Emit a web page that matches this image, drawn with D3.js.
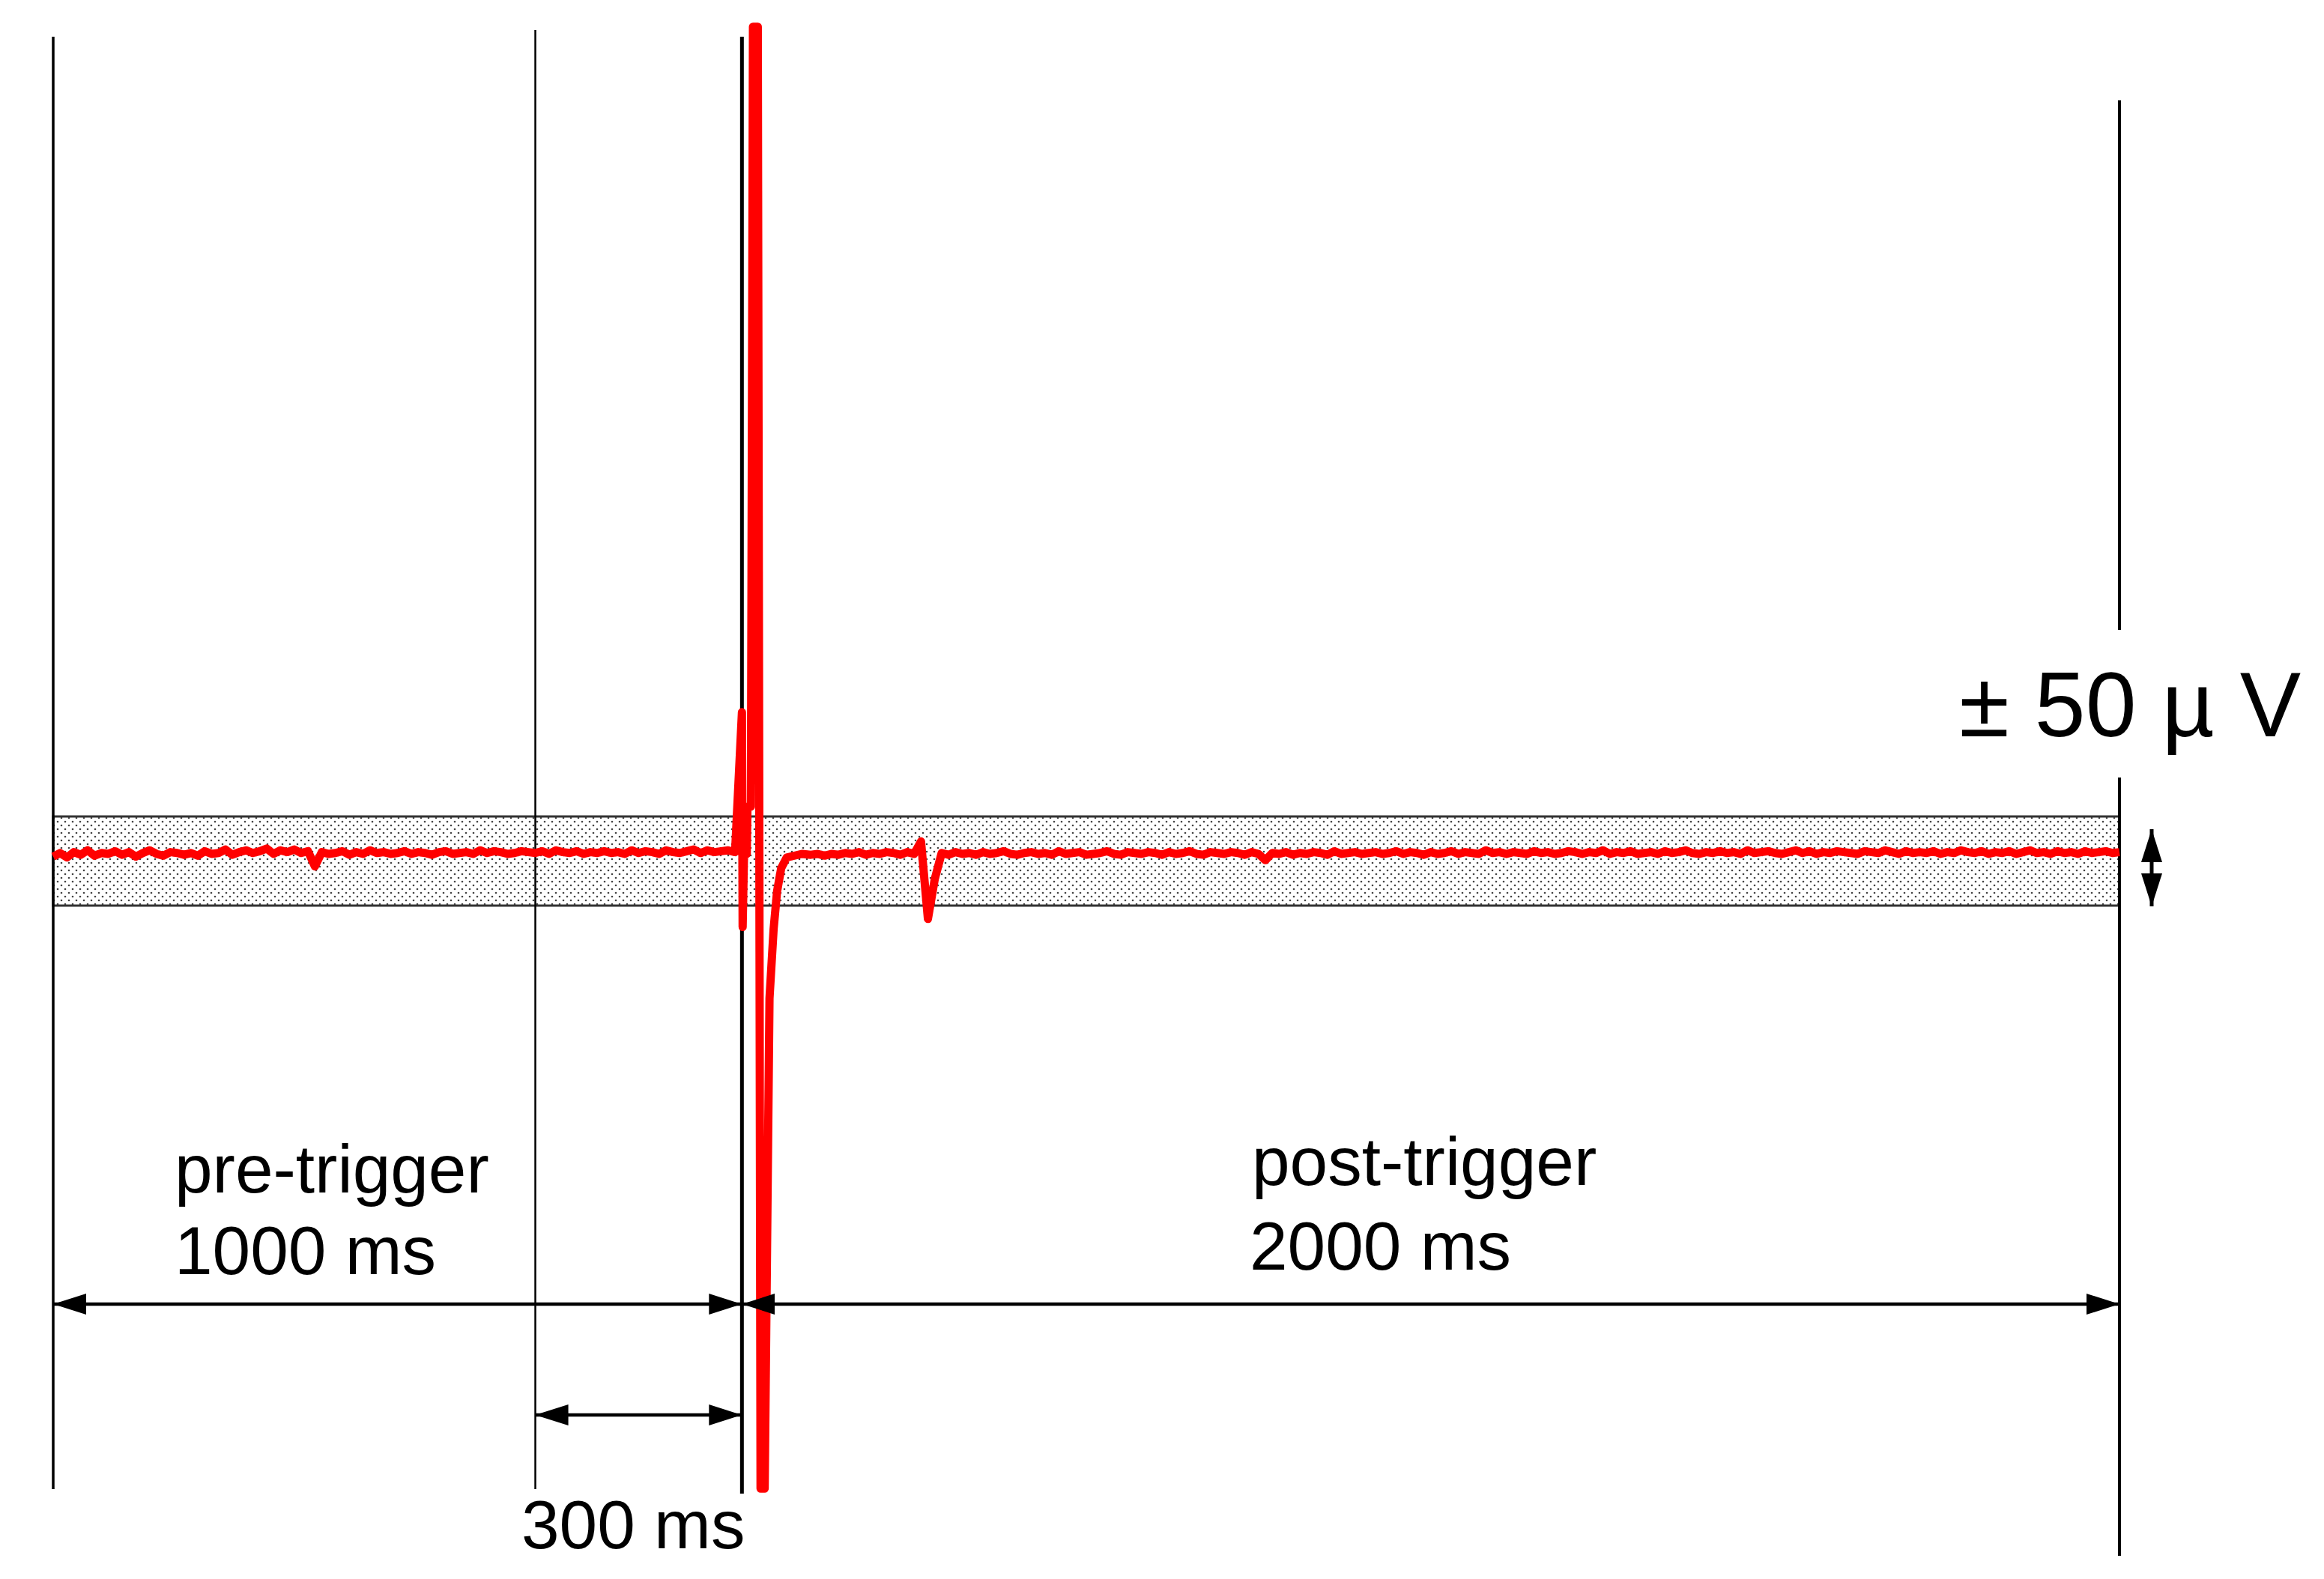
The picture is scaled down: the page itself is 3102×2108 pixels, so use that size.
<!DOCTYPE html>
<html lang="en">
<head>
<meta charset="UTF-8">
<title>pre/post trigger</title>
<script src="https://d3js.org/d3.v7.min.js"></script>
<style>
  body { margin: 0; background: #fff; }
  text { font-family: "Liberation Sans", Arial, sans-serif; fill: #000; }
</style>
</head>
<body>
<script>
// time window (ms) and amplitude band (µV)
const timeDomain = [-1000, 2000];
const bandLimits = [-50, 50];
const markers = [-1000, -300, 0, 2000];

// pre-trigger trace, every 10 ms from -1000 to -10
const preValues = [5,9,4,10,7,12,6,9,8,11, 7,10,5,9,12,8,6,10,9,7, 9,6,11,8,9,13,7,10,12,9,
  11,14,8,12,10,13,9,11,-6,10, 8,9,11,7,10,8,12,9,10,8, 9,11,8,10,9,7,10,11,8,9,
  10,8,12,9,11,10,8,9,11,10, 9,11,8,12,10,9,11,8,10,9, 11,9,10,8,12,9,11,10,8,12,
  10,9,11,13,9,12,10,11,12,10];

// response around the trigger
const spikeTimes = [0, 1, 3, 7, 8, 13, 16, 23, 27, 33, 40, 46, 51, 57, 65, 87, 100, 110];
const spikeValues = [167, -74, 8, 8, 61, 61, 936, 936, -704, -704, -154, -76, -34, -8, 4, 8, 7, 8];

// post-trigger trace, every 10 ms from 120 to 2000
const postValues = [6,8,7,9,8,10,7,9,8,10, 9,7,10,8,22,-65,-20,9,7,10, 8,9,7,10,8,9,11,8,7,9,
  10,8,9,7,11,8,9,10,7,8, 9,11,8,7,10,9,8,10,9,7, 10,8,9,11,8,7,10,9,8,10,
  9,7,10,8,1,9,8,10,7,9, 8,10,9,7,11,8,9,10,8,9, 10,8,9,11,8,10,9,7,10,8,
  9,11,8,10,9,8,12,9,10,8, 10,9,8,11,9,10,8,9,11,10, 8,10,9,12,8,10,9,11,8,9,
  10,8,11,9,10,12,9,8,10,9, 11,9,10,8,12,9,10,11,9,8, 10,12,9,11,8,10,9,11,10,9,
  8,11,10,9,12,10,8,11,9,10, 9,11,8,10,9,12,10,9,11,8, 10,9,11,8,10,12,9,10,8,11,
  9,10,8,11,9,10,11,9,10];

const W = 3102, H = 2108;
const svg = d3.select('body').append('svg').attr('width', W).attr('height', H);

const x = d3.scaleLinear().domain(timeDomain).range([71, 2829]);
const y = d3.scaleLinear().domain(bandLimits).range([1209, 1090]);

// dotted band pattern
const defs = svg.append('defs');
const pat = defs.append('pattern').attr('id', 'dots').attr('patternUnits', 'userSpaceOnUse')
  .attr('width', 10).attr('height', 10);
pat.append('circle').attr('cx', 2).attr('cy', 2).attr('r', 1.3).attr('fill', '#444');
pat.append('circle').attr('cx', 7).attr('cy', 7).attr('r', 1.3).attr('fill', '#444');

defs.append('marker').attr('id', 'arr').attr('viewBox', '0 0 44 28')
  .attr('refX', 44).attr('refY', 14).attr('markerWidth', 44).attr('markerHeight', 28)
  .attr('markerUnits', 'userSpaceOnUse').attr('orient', 'auto-start-reverse')
  .append('path').attr('d', 'M0,0 L44,14 L0,28 Z').attr('fill', '#000');

// band
svg.append('rect').attr('x', x(timeDomain[0])).attr('y', y(bandLimits[1]))
  .attr('width', x(timeDomain[1]) - x(timeDomain[0])).attr('height', y(bandLimits[0]) - y(bandLimits[1]))
  .attr('fill', 'url(#dots)').attr('stroke', '#333').attr('stroke-width', 3);

// vertical markers
const vLine = (t, y1, y2, w) => svg.append('line').attr('x1', x(t)).attr('x2', x(t))
  .attr('y1', y1).attr('y2', y2).attr('stroke', '#000').attr('stroke-width', w);
vLine(markers[0], 49, 1988, 3.5);
vLine(markers[1], 40, 1988, 2.5);
vLine(markers[2], 49, 1994, 5);
vLine(markers[3], 134, 841, 4);
vLine(markers[3], 1038, 2077, 4);

// trace
const pts = preValues.map((v, i) => [-1000 + i * 10, v])
  .concat(spikeTimes.map((t, i) => [t, spikeValues[i]]))
  .concat(postValues.map((v, i) => [120 + i * 10, v]));
svg.append('path').datum(pts)
  .attr('d', d3.line().x(d => x(d[0])).y(d => y(d[1])))
  .attr('fill', 'none').attr('stroke', '#ff0000').attr('stroke-width', 11)
  .attr('stroke-linejoin', 'round');

// duration arrows
const hArrow = (t1, t2, yy) => svg.append('line').attr('x1', x(t1)).attr('x2', x(t2))
  .attr('y1', yy).attr('y2', yy).attr('stroke', '#000').attr('stroke-width', 4.5)
  .attr('marker-start', 'url(#arr)').attr('marker-end', 'url(#arr)');
hArrow(markers[0], markers[2], 1741);
hArrow(markers[2], markers[3], 1741);
hArrow(markers[1], markers[2], 1889);

// amplitude arrow
svg.append('line').attr('x1', 2872).attr('x2', 2872).attr('y1', 1107).attr('y2', 1210)
  .attr('stroke', '#000').attr('stroke-width', 5)
  .attr('marker-start', 'url(#arr)').attr('marker-end', 'url(#arr)');

// labels
const label = (txt, lx, ly, size) => svg.append('text').attr('x', lx).attr('y', ly)
  .attr('font-size', size).text(txt);
label('pre-trigger', 233, 1592, 91);
label('1000 ms', 233, 1701, 91);
label('post-trigger', 1671, 1582, 91);
label('2000 ms', 1668, 1695, 91);
label('300 ms', 696, 2067, 91);
label('± 50 µ V', 2615, 983, 122);
</script>
</body>
</html>
